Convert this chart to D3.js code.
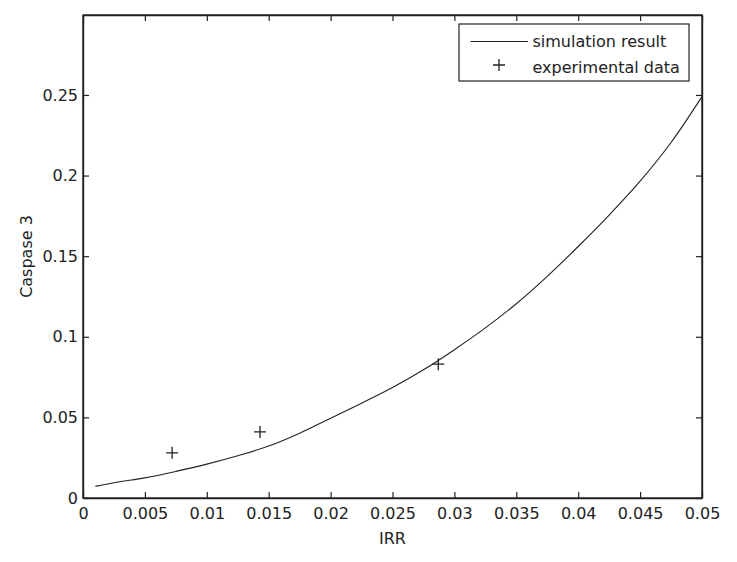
<!DOCTYPE html>
<html lang="en">
<head>
    <meta charset="UTF-8">
    <script src="https://d3js.org/d3.v7.min.js"></script>
    <title>Caspase 3 vs IRR</title>
    <style>
        body { margin: 0; background: #fff; }
        text { font-family: "DejaVu Sans", sans-serif; fill: #222; }
    </style>
</head>
<body>
    <div id="canvas"></div>
</body>
    <script>
        // simulation curve
        const simX = [0.001, 0.0025, 0.005, 0.0075, 0.01, 0.0125, 0.015, 0.0175, 0.02, 0.0225, 0.025,
                      0.0275, 0.03, 0.0325, 0.035, 0.0375, 0.04, 0.0425, 0.045, 0.0475, 0.05]
        const simY = [0.0072, 0.0095, 0.0125, 0.0165, 0.021, 0.0262, 0.0322, 0.0402, 0.0495, 0.0588, 0.0685,
                      0.0795, 0.092, 0.1055, 0.1205, 0.1375, 0.156, 0.1755, 0.1965, 0.2205, 0.249]
        // experimental points
        const expX = [0.0072, 0.0143, 0.0287]
        const expY = [0.028, 0.041, 0.0830]
        const xTicks = [0, 0.005, 0.01, 0.015, 0.02, 0.025, 0.03, 0.035, 0.04, 0.045, 0.05]
        const yTicks = [0, 0.05, 0.1, 0.15, 0.2, 0.25]
        const seriesNames = ["simulation result", "experimental data"]

        const W = 737, H = 562
        const margin = {top:15, right:35, bottom:64, left:83}
        const gW = W - margin.left - margin.right
        const gH = H - margin.top - margin.bottom
        const ink = "#222"

        const svg = d3.select("#canvas").append("svg").attr("width", W).attr("height", H)
        const g = svg.append("g").attr("transform", `translate(${margin.left},${margin.top})`)

        const x = d3.scaleLinear().domain([0, 0.05]).range([0, gW])
        const y = d3.scaleLinear().domain([0, 0.2996]).range([gH, 0])

        const fmt = d => d3.format("")(+d.toFixed(3))

        const xAxis = d3.axisBottom(x).tickValues(xTicks).tickFormat(fmt).tickSizeInner(-6).tickSizeOuter(0).tickPadding(9.5)
        const yAxis = d3.axisLeft(y).tickValues(yTicks).tickFormat(fmt).tickSizeInner(-6).tickSizeOuter(0).tickPadding(5)
        const xTop = d3.axisTop(x).tickValues(xTicks).tickFormat("").tickSizeInner(-6).tickSizeOuter(0)
        const yRight = d3.axisRight(y).tickValues(yTicks).tickFormat("").tickSizeInner(-6).tickSizeOuter(0)

        const gx = g.append("g").attr("transform", `translate(0,${gH})`).call(xAxis)
        const gy = g.append("g").call(yAxis)
        const gxt = g.append("g").call(xTop)
        const gyr = g.append("g").attr("transform", `translate(${gW},0)`).call(yRight)

        ;[gx, gy, gxt, gyr].forEach(a => {
            a.select(".domain").attr("stroke", ink).attr("stroke-width", 1.4)
            a.selectAll(".tick line").attr("stroke", ink).attr("stroke-width", 1.2)
            a.selectAll("text").style("font-size", "16px").attr("fill", ink)
        })
        // full box
        g.append("rect").attr("width", gW).attr("height", gH)
            .attr("fill", "none").attr("stroke", ink).attr("stroke-width", 1.4)

        // curve
        const simData = simX.map((v, i) => ({x: v, y: simY[i]}))
        g.append("path").datum(simData)
            .attr("fill", "none").attr("stroke", ink).attr("stroke-width", 1.1)
            .attr("d", d3.line().x(d => x(d.x)).y(d => y(d.y)).curve(d3.curveMonotoneX))

        // plus markers
        const plusPath = s => `M${-s},0H${s}M0,${-s}V${s}`
        g.selectAll(".pt").data(expX.map((v, i) => ({x: v, y: expY[i]})))
            .enter().append("path").attr("class", "pt")
            .attr("transform", d => `translate(${x(d.x)},${y(d.y)})`)
            .attr("d", plusPath(6))
            .attr("stroke", ink).attr("stroke-width", 1.3).attr("fill", "none")

        // axis titles
        g.append("text").attr("x", gW / 2).attr("y", gH + 46)
            .attr("text-anchor", "middle").style("font-size", "16px").text("IRR")
        g.append("text").attr("transform", "rotate(-90)")
            .attr("x", -gH / 2).attr("y", -51)
            .attr("text-anchor", "middle").style("font-size", "16px").text("Caspase 3")

        // legend
        const lg = g.append("g").attr("transform", `translate(${gW - 243},9)`)
        lg.append("rect").attr("width", 230).attr("height", 57)
            .attr("fill", "#fff").attr("stroke", ink).attr("stroke-width", 1.2)
        lg.append("line").attr("x1", 11.5).attr("x2", 69).attr("y1", 17.5).attr("y2", 17.5)
            .attr("stroke", ink).attr("stroke-width", 1.1)
        lg.append("path").attr("transform", "translate(40,41)").attr("d", plusPath(6))
            .attr("stroke", ink).attr("stroke-width", 1.3)
        lg.selectAll(".lt").data(seriesNames).enter().append("text").attr("class", "lt")
            .attr("x", 73.5).attr("y", (d, i) => 22.5 + i * 26)
            .style("font-size", "16px").text(d => d)
    </script>
</html>
